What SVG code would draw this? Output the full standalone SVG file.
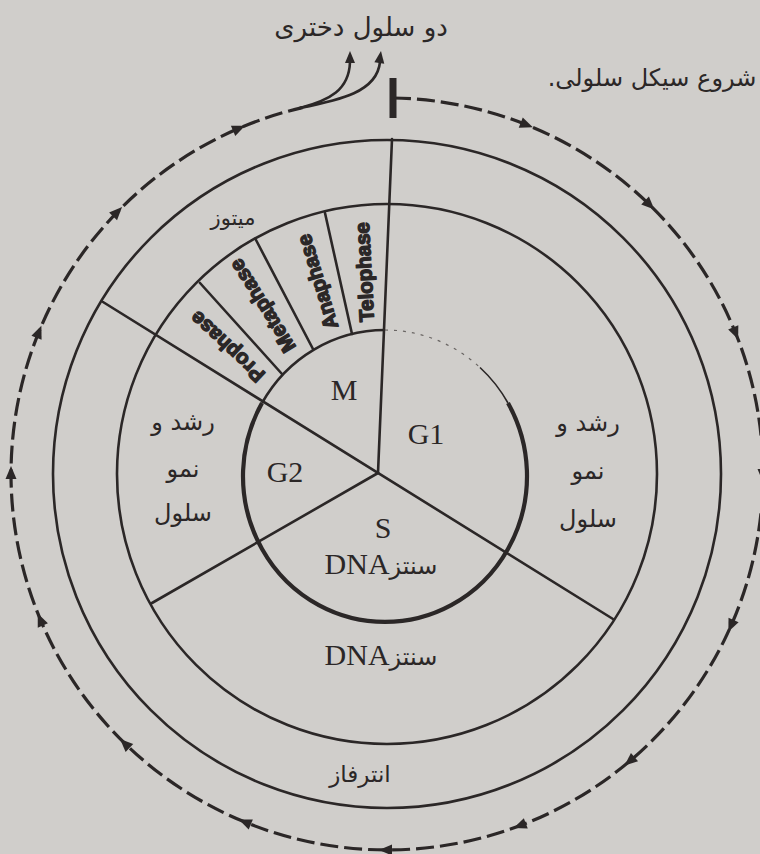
<svg xmlns="http://www.w3.org/2000/svg" xmlns:xlink="http://www.w3.org/1999/xlink" width="760" height="854" viewBox="0 0 760 854">
<style>
.ln{fill:none;stroke:#2b2727;stroke-width:2.6;stroke-linecap:round}
.ring{fill:none;stroke:#2b2727;stroke-width:2.6}
.bold{fill:none;stroke:#2b2727;stroke-width:4.2}
.dash{fill:none;stroke:#2b2727;stroke-width:3.2;stroke-dasharray:18 6}
.fa{font-family:"DejaVu Sans","Noto Sans",sans-serif;fill:#2b2727;text-anchor:middle}
.lat{font-family:"Liberation Serif","DejaVu Sans",serif;fill:#2b2727;text-anchor:middle;font-size:30px}
.ph{font-family:"Liberation Sans",Arial,sans-serif;font-weight:bold;font-size:20.5px;fill:#2b2727;stroke:#2b2727;stroke-width:1.3;stroke-linejoin:round;text-anchor:middle;dominant-baseline:central}
.ah{fill:#2b2727}
</style>
<defs>
<path id="ah" class="ah" d="M763,482 L757.5,469 L768.5,469 Z"/>
<path id="up" class="ah" d="M0,-7 L-5,5 L5,5 Z"/>
</defs>
<rect width="760" height="854" fill="#d0cecb"/>

<g id="rings">
<circle class="ring" cx="387" cy="474" r="334"/>
<circle class="ring" cx="387" cy="474" r="270"/>
<path class="bold" d="M508,403 A142,146 0 1,1 262,403"/>
<path class="ring" d="M262,403 A142,146 0 0,1 385,330"/>
<path fill="none" stroke="#6a6664" stroke-width="1.2" stroke-dasharray="3 6" d="M385,330 A142,146 0 0,1 480,367.5"/>
<path fill="none" stroke="#2b2727" stroke-width="1.6" d="M480,367.5 A142,146 0 0,1 508,403"/>
</g>

<g id="connectors">
<line class="ln" x1="392" y1="139" x2="378" y2="473"/>
<line class="ln" x1="103" y1="302" x2="613" y2="619"/>
<line class="ln" x1="378" y1="473" x2="152" y2="603"/>
<line class="ln" x1="200" y1="283" x2="282" y2="374"/>
<line class="ln" x1="256" y1="240" x2="313" y2="349"/>
<line class="ln" x1="325" y1="213" x2="352" y2="334"/>
<path class="dash" d="M393,98 A376,376 0 1,1 302.4,107.6"/>
<line x1="393" y1="78" x2="393" y2="118" stroke="#2b2727" stroke-width="7"/>
<path class="ln" stroke-width="3" d="M300,108 C330,100 349,90 350,62"/>
<path class="ln" stroke-width="3" d="M300,108 C340,100 377,92 380,62"/>
<use xlink:href="#up" transform="translate(350,58)"/>
<use xlink:href="#up" transform="translate(380,58) rotate(8)"/>
<g id="cycle-arrows">
<use xlink:href="#ah" transform="rotate(-68.4 387 474)"/>
<use xlink:href="#ah" transform="rotate(-45.9 387 474)"/>
<use xlink:href="#ah" transform="rotate(-22.2 387 474)"/>
<use xlink:href="#ah" transform="rotate(0 387 474)"/>
<use xlink:href="#ah" transform="rotate(23.6 387 474)"/>
<use xlink:href="#ah" transform="rotate(49.6 387 474)"/>
<use xlink:href="#ah" transform="rotate(69.1 387 474)"/>
<use xlink:href="#ah" transform="rotate(90 387 474)"/>
<use xlink:href="#ah" transform="rotate(112 387 474)"/>
<use xlink:href="#ah" transform="rotate(134 387 474)"/>
<use xlink:href="#ah" transform="rotate(157 387 474)"/>
<use xlink:href="#ah" transform="rotate(180 387 474)"/>
<use xlink:href="#ah" transform="rotate(202 387 474)"/>
<use xlink:href="#ah" transform="rotate(224 387 474)"/>
<use xlink:href="#ah" transform="rotate(246.6 387 474)"/>
</g>
</g>

<g id="daughter-cells"><text class="fa" x="361" y="36" font-size="26" direction="rtl">دو سلول دختری</text></g>
<g id="cycle-start"><text class="fa" x="652" y="86" font-size="24" direction="rtl">شروع سیکل سلولی.</text></g>
<g id="mitosis"><text class="fa" x="233" y="225" font-size="21" direction="rtl">میتوز</text></g>
<g id="prophase"><text class="ph" x="227" y="347" transform="rotate(-137 227 347)">Prophase</text></g>
<g id="metaphase"><text class="ph" x="262" y="306" transform="rotate(-122 262 306)">Metaphase</text></g>
<g id="anaphase"><text class="ph" x="317" y="282" transform="rotate(-107 317 282)">Anaphase</text></g>
<g id="telophase"><text class="ph" x="364" y="272" transform="rotate(-93 364 272)">Telophase</text></g>
<g id="M"><text class="lat" x="344" y="400">M</text></g>
<g id="G1"><text class="lat" x="426" y="444">G1</text></g>
<g id="G2"><text class="lat" x="285" y="482">G2</text></g>
<g id="S"><text class="lat" x="383" y="538">S</text><text class="lat" x="381" y="574">DNA<tspan font-family="DejaVu Sans,sans-serif" font-size="24">سنتز</tspan></text></g>
<g id="growth-left">
<text class="fa" x="183" y="430" font-size="24" direction="rtl">رشد و</text>
<text class="fa" x="183" y="477" font-size="24" direction="rtl">نمو</text>
<text class="fa" x="183" y="521" font-size="24" direction="rtl">سلول</text>
</g>
<g id="growth-right">
<text class="fa" x="588" y="431" font-size="24" direction="rtl">رشد و</text>
<text class="fa" x="588" y="479" font-size="24" direction="rtl">نمو</text>
<text class="fa" x="588" y="527" font-size="24" direction="rtl">سلول</text>
</g>
<g id="synthesis-band"><text class="lat" x="381" y="665">DNA<tspan font-family="DejaVu Sans,sans-serif" font-size="24">سنتز</tspan></text></g>
<g id="interphase"><text class="fa" x="360" y="782" font-size="23" direction="rtl">انترفاز</text></g>
</svg>
